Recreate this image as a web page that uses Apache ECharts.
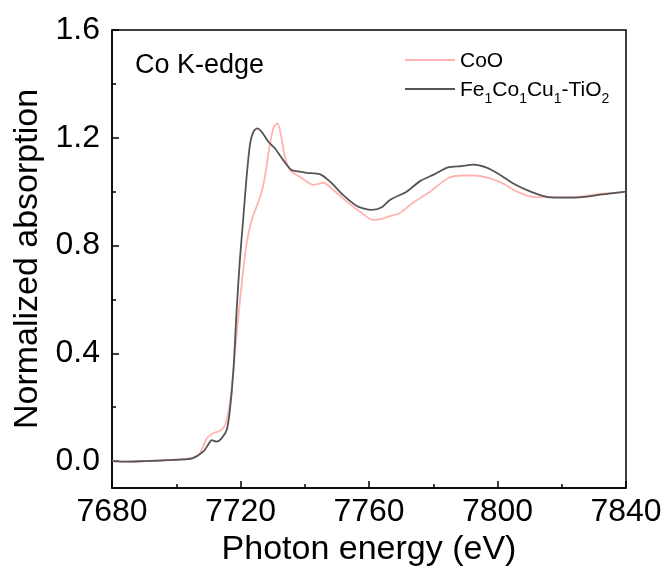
<!DOCTYPE html>
<html>
<head>
<meta charset="utf-8">
<script src="https://cdn.jsdelivr.net/npm/echarts@6/dist/echarts.min.js"></script>
<style>html,body{margin:0;padding:0;background:#fff}#c{width:669px;height:576px}</style>
</head>
<body>
<div id="c"></div>
<script>
// ---- data ----
const coEnergy = [7680,7685,7690,7695,7701,7705,7707.4,7709.5,7711.5,7713.6,7715.2,7716.7,7717.8,7719.0,7720.4,7721.9,7723.5,7725.0,7726.6,7727.6,7729.2,7730.4,7731.5,7732.5,7733.8,7735.4,7738.5,7742.7,7745.8,7748.9,7753.1,7757.2,7761.3,7764.5,7766.5,7769.5,7773.8,7779,7784.6,7788.8,7793,7797.4,7801.7,7806,7811.4,7817.8,7824.2,7830.7,7840];
const coValue  = [0.0,-0.002,0.0,0.002,0.007,0.012,0.029,0.084,0.103,0.112,0.134,0.214,0.338,0.498,0.66,0.808,0.895,0.944,1.0,1.055,1.179,1.241,1.253,1.216,1.13,1.08,1.055,1.025,1.033,1.006,0.963,0.925,0.895,0.901,0.909,0.92,0.96,1.00,1.05,1.06,1.06,1.05,1.03,1.00,0.98,0.98,0.98,0.99,1.00];

const feEnergy = [7680,7685,7690,7695,7701,7705,7708.4,7710,7711,7712.6,7714.1,7715.7,7716.7,7717.8,7718.8,7719.8,7720.9,7721.9,7723.0,7724,7725.2,7726.6,7728.7,7730.7,7733.3,7735.9,7738.5,7740.6,7744.7,7747.9,7752.0,7756.2,7760.8,7764,7766.5,7771.7,7776,7780.3,7784.6,7788.8,7792.6,7796.4,7800.6,7804.9,7810.3,7815.7,7821,7826.4,7832.8,7840];
const feValue  = [0.0,-0.002,0.0,0.002,0.005,0.01,0.035,0.062,0.078,0.072,0.084,0.115,0.189,0.338,0.56,0.746,0.907,1.055,1.179,1.222,1.235,1.222,1.185,1.161,1.117,1.08,1.074,1.07,1.065,1.037,0.987,0.947,0.932,0.942,0.969,1.00,1.04,1.064,1.09,1.095,1.10,1.09,1.064,1.03,1.00,0.98,0.978,0.98,0.99,1.00];

const yTicks = [0,0.4,0.8,1.2,1.6];
const yMinorTicks = [0.2,0.6,1.0,1.4];
const seriesNames = ['CoO','Fe1Co1Cu1-TiO2'];

const zip = (a,b) => a.map((v,i)=>[v,b[i]]);
const FONT = 'Arial, "Liberation Sans", sans-serif';

const chart = echarts.init(document.getElementById('c'), null, {renderer:'canvas'});
chart.setOption({
  animation:false,
  backgroundColor:'#fff',
  title:{
    text:'Co K-edge', left:135, top:52, padding:0,
    textStyle:{fontFamily:FONT, fontSize:27, fontWeight:'normal', color:'#000'}
  },
  legend:{
    orient:'vertical', left:400, top:46, itemGap:8,
    itemWidth:50, itemHeight:2, icon:'rect',
    data: seriesNames,
    formatter: n => n === 'CoO' ? '{n|CoO}' : '{n|Fe}{s|1}{n|Co}{s|1}{n|Cu}{s|1}{n|-TiO}{s|2}',
    textStyle:{
      fontFamily:FONT, fontSize:21, color:'#000', padding:[0,0,0,0],
      rich:{
        n:{fontFamily:FONT, fontSize:21, color:'#000', verticalAlign:'bottom', lineHeight:24},
        s:{fontFamily:FONT, fontSize:14, color:'#000', verticalAlign:'bottom', lineHeight:18, padding:[0,0,-5,0]}
      }
    }
  },
  grid:{left:112, right:43, top:30, bottom:88, show:true, borderColor:'#000', borderWidth:1.5, backgroundColor:'transparent'},
  xAxis:{
    type:'value', min:7680, max:7840, interval:40,
    name:'Photon energy (eV)', nameLocation:'middle', nameGap:45,
    nameTextStyle:{fontFamily:FONT, fontSize:34, color:'#000'},
    axisLine:{show:true, onZero:false, lineStyle:{color:'#000', width:1.5}},
    axisTick:{show:true, inside:true, length:7, lineStyle:{color:'#000', width:1.5}},
    minorTick:{show:true, splitNumber:2, length:4, lineStyle:{color:'#000', width:1.5}},
    axisLabel:{fontFamily:FONT, fontSize:32, color:'#000', margin:8, formatter:v=>String(v)},
    splitLine:{show:false}
  },
  yAxis:[{
    type:'value', min:-0.1, max:1.6,
    name:'Normalized absorption', nameLocation:'middle', nameGap:67,
    nameTextStyle:{fontFamily:FONT, fontSize:34, color:'#000'},
    axisLine:{show:true, onZero:false, lineStyle:{color:'#000', width:1.5}},
    axisTick:{show:true, inside:true, length:7, customValues:yTicks, lineStyle:{color:'#000', width:1.5}},
    axisLabel:{fontFamily:FONT, fontSize:32, color:'#000', margin:12, customValues:yTicks, formatter:v=>v.toFixed(1)},
    splitLine:{show:false}
  },{
    type:'value', min:-0.1, max:1.6, position:'left',
    axisLine:{show:false},
    axisTick:{show:true, inside:true, length:4, customValues:yMinorTicks, lineStyle:{color:'#000', width:1.5}},
    axisLabel:{show:false},
    splitLine:{show:false}
  }],
  series:[
    {name:seriesNames[0], type:'line', data:zip(coEnergy,coValue), showSymbol:false, smooth:0.25,
     lineStyle:{color:'#ffb3b3', width:1.8}, itemStyle:{color:'#ffb3b3'}, z:2},
    {name:seriesNames[1], type:'line', data:zip(feEnergy,feValue), showSymbol:false, smooth:0.25,
     lineStyle:{color:'#555555', width:1.8}, itemStyle:{color:'#555555'}, z:3}
  ]
});
</script>
</body>
</html>
